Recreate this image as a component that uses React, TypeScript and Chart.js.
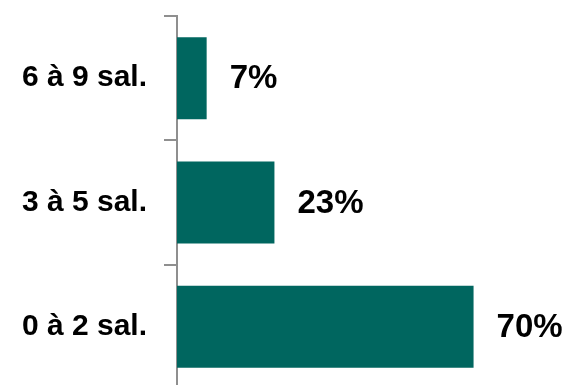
import React, { useEffect, useRef } from "react";
import { Chart, registerables } from "chart.js";

Chart.register(...registerables);

const categories = ["6 à 9 sal.", "3 à 5 sal.", "0 à 2 sal."];
const shares = [7, 23, 70];
const valueLabels = ["7%", "23%", "70%"];

const FONT = 'Arial, "Liberation Sans", sans-serif';
const BAR_COLOR = "#00665f";
const AXIS_COLOR = "#8f8f8f";

const valueLabelPlugin = {
  id: "valueLabels",
  afterDatasetsDraw(chart: any) {
    const ctx = chart.ctx;
    const meta = chart.getDatasetMeta(0);
    ctx.save();
    ctx.font = `bold 33px ${FONT}`;
    ctx.fillStyle = "#000000";
    ctx.textAlign = "left";
    ctx.textBaseline = "middle";
    meta.data.forEach((bar: any, i: number) => {
      ctx.fillText(valueLabels[i], bar.x + 23, bar.y + 1);
    });
    ctx.restore();
  },
};

export default function App() {
  const canvasRef = useRef<HTMLCanvasElement | null>(null);

  useEffect(() => {
    document.body.style.margin = "0";
    document.body.style.overflow = "hidden";
    const canvas = canvasRef.current;
    if (!canvas) return;
    const chart = new Chart(canvas, {
      type: "bar",
      data: {
        labels: categories,
        datasets: [
          {
            data: shares,
            backgroundColor: BAR_COLOR,
            borderWidth: 0,
            barPercentage: 0.66,
            categoryPercentage: 1,
          },
        ],
      },
      options: {
        indexAxis: "y",
        responsive: false,
        animation: false,
        layout: { padding: { top: 16, bottom: 1, left: 0, right: 0 } },
        plugins: {
          legend: { display: false },
          tooltip: { enabled: false },
        },
        scales: {
          x: {
            display: false,
            min: 0,
            max: 93,
          },
          y: {
            afterFit: (scale: any) => {
              scale.width = 177;
              scale.paddingTop = 0;
              scale.paddingBottom = 0;
            },
            border: { display: true, color: AXIS_COLOR, width: 2 },
            grid: {
              display: true,
              offset: true,
              drawOnChartArea: false,
              drawTicks: true,
              tickLength: 13,
              color: AXIS_COLOR,
              lineWidth: 2,
            },
            ticks: {
              padding: 17,
              color: "#000000",
              font: { family: FONT, size: 30, weight: "bold" },
            },
          },
        },
      },
      plugins: [valueLabelPlugin],
    });
    return () => chart.destroy();
  }, []);

  return (
    <div
      style={{
        position: "fixed",
        left: 0,
        top: 0,
        width: 571,
        height: 385,
        overflow: "hidden",
        background: "#ffffff",
      }}
    >
      <canvas ref={canvasRef} width={571} height={390} style={{ display: "block" }} />
    </div>
  );
}
